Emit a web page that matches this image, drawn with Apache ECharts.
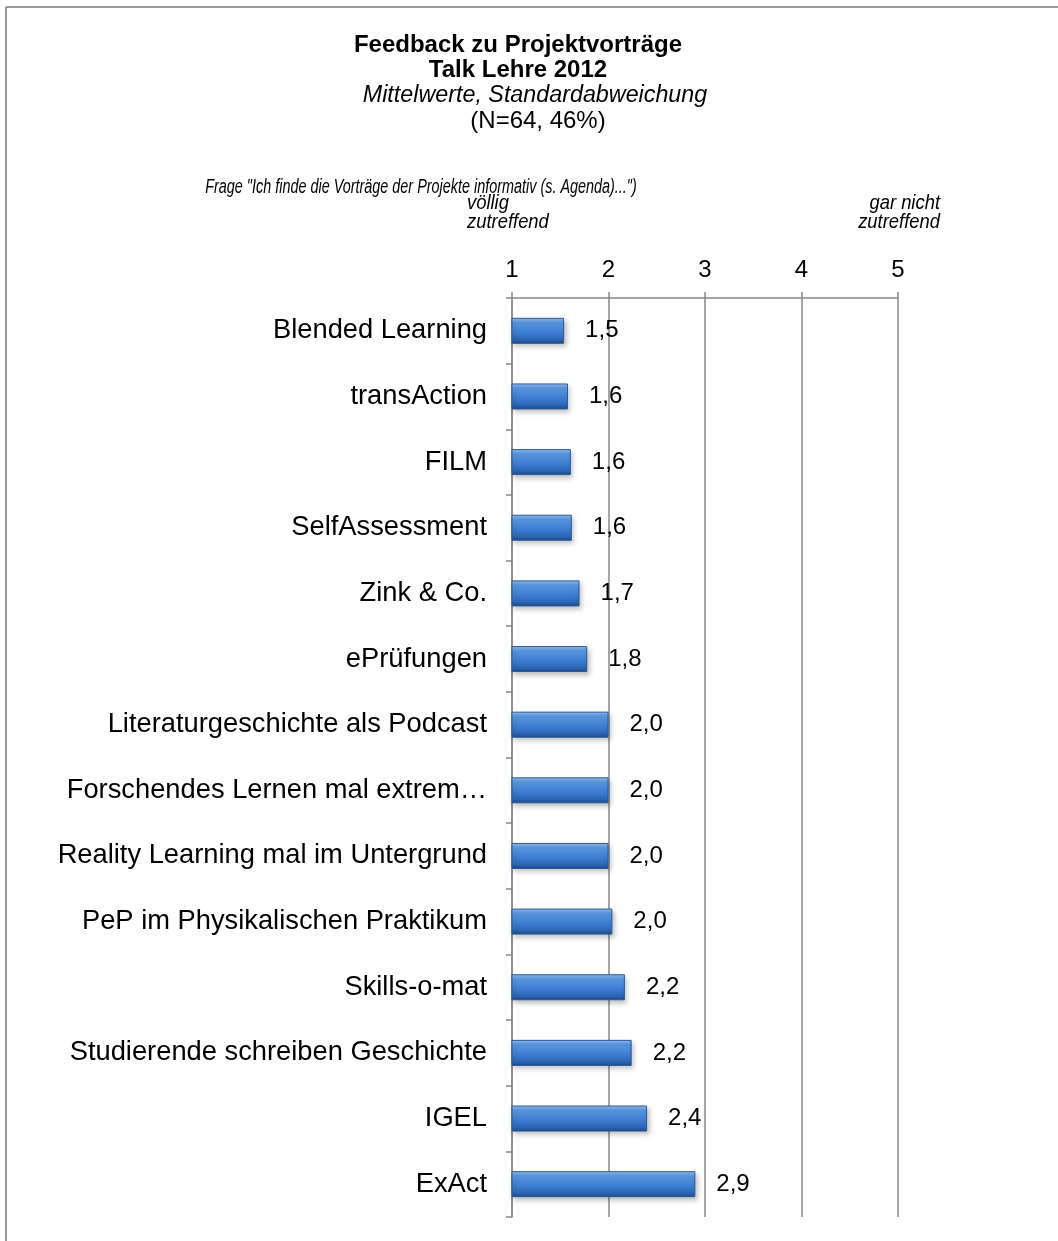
<!DOCTYPE html>
<html><head><meta charset="utf-8">
<script src="https://cdn.jsdelivr.net/npm/echarts@6/dist/echarts.min.js"></script>
<style>html,body{margin:0;padding:0;background:#fff}#c{width:1058px;height:1241px}</style>
</head><body><div id="c"></div>
<script>
const categories = ["Blended Learning","transAction","FILM","SelfAssessment","Zink & Co.","ePrüfungen","Literaturgeschichte als Podcast","Forschendes Lernen mal extrem…","Reality Learning mal im Untergrund","PeP im Physikalischen Praktikum","Skills-o-mat","Studierende schreiben Geschichte","IGEL","ExAct"];
const means = [1.54,1.58,1.61,1.62,1.70,1.78,2.00,2.00,2.00,2.04,2.17,2.24,2.40,2.90];
const scaleTicks = [1,2,3,4,5];
const FONT = '"Liberation Sans", Arial, sans-serif';
const chart = echarts.init(document.getElementById('c'), null, {renderer:'canvas'});
chart.setOption({
  backgroundColor:'#fff',
  animation:false,
  grid:{left:512, right:160, top:298, bottom:24},
  xAxis:{type:'value', position:'top', min:1, max:5, interval:1,
    axisLine:{show:true, lineStyle:{color:'#888', width:1.5}},
    axisTick:{show:true, length:6, lineStyle:{color:'#888', width:1.5}},
    splitLine:{show:true, lineStyle:{color:'#888', width:1.5}},
    axisLabel:{fontFamily:FONT, fontSize:24, color:'#000', margin:16,
      formatter:v=>scaleTicks.includes(v)?String(v):''}},
  yAxis:{type:'category', data:categories, inverse:true,
    axisLine:{show:true, lineStyle:{color:'#888', width:1.5}},
    axisTick:{show:true, length:6, lineStyle:{color:'#888', width:1.5}},
    axisLabel:{fontFamily:FONT, fontSize:27.3, color:'#000', margin:25}},
  series:[{type:'bar', data:means, barWidth:26, clip:true,
    itemStyle:{
      color:new echarts.graphic.LinearGradient(0,0,0,1,[
        {offset:0,color:'#95c0f2'},{offset:0.18,color:'#5a98e2'},
        {offset:0.6,color:'#3a7bd0'},{offset:0.85,color:'#2c64b2'},{offset:1,color:'#1d4786'}]),
      borderColor:'#2a5a98', borderWidth:1,
      shadowColor:'rgba(0,0,0,0.25)', shadowBlur:5, shadowOffsetX:2, shadowOffsetY:3},
    label:{show:true, position:'right', distance:21, fontFamily:FONT, fontSize:24, color:'#000',
      formatter:p=>p.value.toFixed(1).replace('.',',')}}],
  graphic:[
    {type:'line', shape:{x1:6,y1:7,x2:1058,y2:7}, style:{stroke:'#999', lineWidth:2}},
    {type:'line', shape:{x1:6,y1:7,x2:6,y2:1241}, style:{stroke:'#999', lineWidth:2}},
    {type:'text', x:518, y:45, style:{text:'Feedback zu Projektvorträge', fontFamily:FONT, fontSize:24, fontWeight:'bold', fill:'#000', align:'center', verticalAlign:'middle'}},
    {type:'text', x:518, y:70, style:{text:'Talk Lehre 2012', fontFamily:FONT, fontSize:24, fontWeight:'bold', fill:'#000', align:'center', verticalAlign:'middle'}},
    {type:'text', x:535, y:96, style:{text:'Mittelwerte, Standardabweichung', fontFamily:FONT, fontSize:23.3, fontStyle:'italic', fill:'#000', align:'center', verticalAlign:'middle'}},
    {type:'text', x:538, y:121, style:{text:'(N=64, 46%)', fontFamily:FONT, fontSize:24, fill:'#000', align:'center', verticalAlign:'middle'}},
    {type:'text', x:421, y:187, scaleX:0.72, style:{text:'Frage "Ich finde die Vorträge der Projekte informativ (s. Agenda)...")', fontFamily:FONT, fontSize:20, fontStyle:'italic', fill:'#000', align:'center', verticalAlign:'middle'}},
    {type:'text', x:467, y:203, scaleX:0.92, style:{text:'völlig', fontFamily:FONT, fontSize:20, fontStyle:'italic', fill:'#000', align:'left', verticalAlign:'middle'}},
    {type:'text', x:467, y:222, scaleX:0.92, style:{text:'zutreffend', fontFamily:FONT, fontSize:20, fontStyle:'italic', fill:'#000', align:'left', verticalAlign:'middle'}},
    {type:'text', x:940, y:203, scaleX:0.92, style:{text:'gar nicht', fontFamily:FONT, fontSize:20, fontStyle:'italic', fill:'#000', align:'right', verticalAlign:'middle'}},
    {type:'text', x:940, y:222, scaleX:0.92, style:{text:'zutreffend', fontFamily:FONT, fontSize:20, fontStyle:'italic', fill:'#000', align:'right', verticalAlign:'middle'}}
  ]
});
</script></body></html>
